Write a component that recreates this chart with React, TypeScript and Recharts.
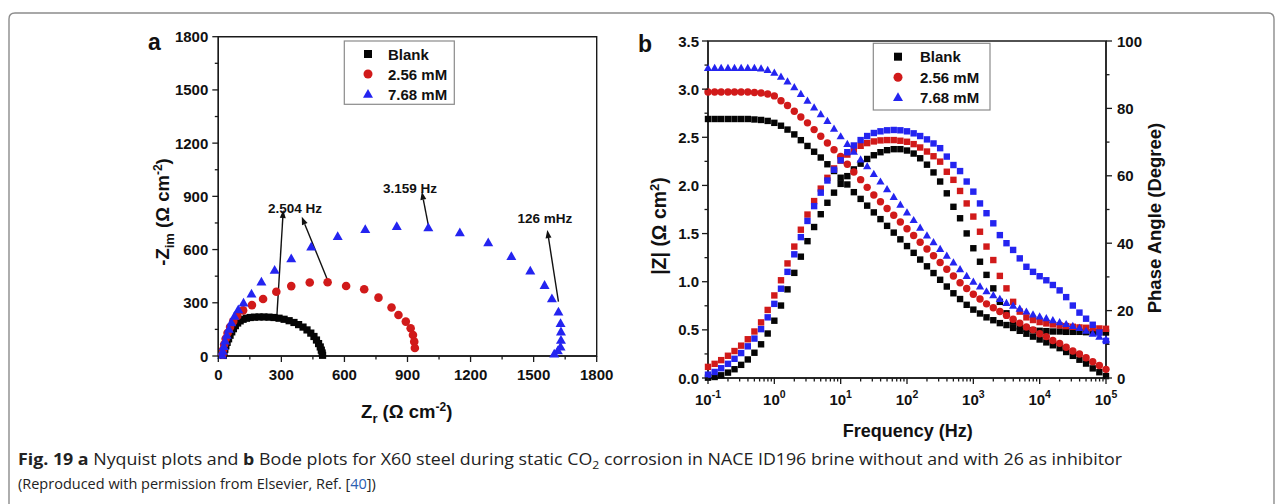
import React from 'react';
import { ScatterChart, Scatter, XAxis, YAxis, ReferenceLine, ReferenceDot, ReferenceArea } from 'recharts';

const FONT = '"Liberation Sans", Arial, Helvetica, sans-serif';
const CAP_FONT = '"Open Sans", "Noto Sans", sans-serif';
const C_BLACK = '#050505';
const C_RED = '#d11a1a';
const C_BLUE = '#2424f0';
const AXIS = '#1a1a1a';

// ---------------- Panel a : Nyquist ----------------
const seriesNames = ['Blank', '2.56 mM', '7.68 mM'];

const nyqBlankZr = [24, 27, 31, 36, 42, 49, 56, 64, 72, 81, 92, 104, 118, 134, 152, 172, 194, 217, 241, 265, 289, 313, 337, 360, 382, 403, 422, 440, 455, 467, 477, 485, 490, 494, 496];
const nyqBlankZim = [3, 20, 38, 57, 77, 97, 117, 136, 154, 171, 186, 198, 207, 213, 217, 219, 220, 220, 219, 217, 213, 207, 199, 189, 177, 163, 147, 129, 110, 90, 70, 51, 33, 17, 4];

const nyq256Zr = [20, 23, 28, 35, 44, 56, 71, 90, 118, 160, 213, 276, 347, 435, 520, 608, 694, 762, 824, 857, 892, 915, 926, 932, 935];
const nyq256Zim = [8, 35, 65, 97, 130, 163, 195, 226, 257, 287, 321, 362, 394, 414, 416, 395, 376, 329, 273, 231, 194, 156, 118, 81, 45];

const nyq768Zr = [18, 21, 26, 32, 40, 50, 62, 77, 95, 120, 158, 205, 268, 347, 442, 568, 699, 849, 999, 1149, 1284, 1394, 1484, 1552, 1587, 1618, 1628, 1630, 1630, 1628, 1615, 1598];
const nyq768Zim = [5, 28, 55, 85, 118, 152, 188, 225, 262, 300, 350, 418, 484, 549, 615, 675, 714, 731, 724, 696, 639, 562, 480, 399, 324, 249, 184, 137, 90, 52, 30, 12];

const nyqTicks = [0, 150, 300, 450, 600, 750, 900, 1050, 1200, 1350, 1500, 1650, 1800];

// annotation arrows (data coordinates: [Zr, Zim] from -> to)
const nyqArrowFrom = [[278, 212], [523, 419], [999, 738], [1618, 306]];
const nyqArrowTo = [[309, 823], [397, 785], [968, 926], [1565, 710]];
const nyqNoteText = ['2.504 Hz', '3.159 Hz', '126 mHz'];
const nyqNoteAt = [[365, 836], [912, 947], [1554, 780]];

// ---------------- Panel b : Bode ----------------
const bodeFreq = [
  0.1, 0.126, 0.158, 0.2, 0.251, 0.316, 0.398, 0.501, 0.631, 0.794,
  1, 1.26, 1.58, 2, 2.51, 3.16, 3.98, 5.01, 6.31, 7.94,
  10, 12.6, 15.8, 20, 25.1, 31.6, 39.8, 50.1, 63.1, 79.4,
  100, 126, 158, 200, 251, 316, 398, 501, 631, 794,
  1000, 1260, 1580, 2000, 2510, 3160, 3980, 5010, 6310, 7940,
  10000, 12600, 15800, 20000, 25100, 31600, 39800, 50100, 63100, 79400,
  100000,
];

const bodeBlankLogZ = [
  2.69, 2.69, 2.69, 2.69, 2.69, 2.69, 2.69, 2.685, 2.68, 2.67,
  2.65, 2.62, 2.58, 2.53, 2.47, 2.41, 2.35, 2.29, 2.22, 2.15,
  2.08, 2.01, 1.93, 1.86, 1.79, 1.72, 1.65, 1.58, 1.51, 1.44,
  1.37, 1.30, 1.23, 1.16, 1.09, 1.02, 0.95, 0.88, 0.82, 0.76,
  0.71, 0.67, 0.63, 0.60, 0.57, 0.55, 0.52, 0.49, 0.46, 0.43,
  0.40, 0.37, 0.34, 0.31, 0.27, 0.23, 0.19, 0.15, 0.10, 0.06,
  0.02,
];
const bode256LogZ = [
  2.97, 2.97, 2.97, 2.97, 2.97, 2.97, 2.97, 2.965, 2.96, 2.95,
  2.93, 2.88, 2.83, 2.77, 2.71, 2.65, 2.58, 2.51, 2.44, 2.37,
  2.30, 2.22, 2.14, 2.06, 1.98, 1.90, 1.83, 1.76, 1.69, 1.62,
  1.55, 1.48, 1.41, 1.34, 1.27, 1.20, 1.13, 1.06, 0.99, 0.93,
  0.87, 0.82, 0.77, 0.73, 0.69, 0.65, 0.61, 0.57, 0.53, 0.50,
  0.46, 0.43, 0.39, 0.36, 0.32, 0.28, 0.25, 0.21, 0.17, 0.13,
  0.09,
];
const bode768LogZ = [
  3.22, 3.22, 3.22, 3.22, 3.22, 3.22, 3.22, 3.22, 3.215, 3.20,
  3.17, 3.13, 3.08, 3.02, 2.95, 2.88, 2.81, 2.74, 2.67, 2.59,
  2.51, 2.43, 2.35, 2.27, 2.20, 2.12, 2.04, 1.96, 1.88, 1.80,
  1.72, 1.64, 1.56, 1.48, 1.41, 1.34, 1.27, 1.20, 1.13, 1.06,
  1.00, 0.95, 0.90, 0.86, 0.82, 0.78, 0.75, 0.72, 0.69, 0.66,
  0.64, 0.62, 0.60, 0.58, 0.56, 0.54, 0.52, 0.49, 0.46, 0.43,
  0.40,
];

const bodeBlankPhase = [
  0.1, 0.3, 0.8, 1.6, 2.6, 3.9, 5.5, 7.5, 10.0, 13.2,
  17.0, 21.5, 26.3, 31.2, 36.0, 40.6, 44.8, 48.6, 52.0, 55.0,
  57.6, 59.9, 61.9, 63.6, 65.0, 66.1, 67.0, 67.6, 67.9, 67.9,
  67.5, 66.6, 65.2, 63.3, 61.0, 58.3, 54.8, 50.8, 47.4, 42.9,
  38.5, 34.5, 30.6, 26.6, 22.6, 19.2, 16.7, 15.3, 14.6, 14.2,
  14.0, 13.9, 13.8, 13.8, 13.7, 13.7, 13.7, 13.6, 13.6, 13.6,
  13.5,
];
const bode256Phase = [
  3.3, 4.2, 5.3, 6.6, 8.0, 9.6, 11.5, 13.8, 16.5, 20.2,
  24.5, 29.0, 34.0, 39.0, 44.0, 48.5, 52.5, 56.2, 59.4, 62.2,
  64.5, 66.3, 67.8, 68.9, 69.7, 70.2, 70.5, 70.6, 70.6, 70.4,
  70.1, 69.4, 68.4, 67.2, 65.8, 64.2, 61.2, 58.8, 55.5, 51.8,
  47.9, 43.4, 39.0, 35.0, 30.3, 26.6, 22.6, 19.7, 18.0, 17.2,
  16.6, 16.2, 15.9, 15.6, 15.4, 15.2, 15.0, 14.9, 14.8, 14.7,
  14.6,
];
const bode768Phase = [
  1.0, 1.8, 2.9, 4.2, 5.7, 7.4, 9.4, 11.7, 14.5, 18.0,
  22.0, 26.5, 31.5, 36.7, 41.8, 46.6, 51.0, 55.0, 58.6, 61.8,
  64.6, 67.0, 69.0, 70.6, 71.8, 72.7, 73.2, 73.5, 73.6, 73.5,
  73.2, 72.6, 71.8, 70.8, 69.6, 68.2, 65.7, 63.2, 61.4, 58.3,
  55.3, 51.8, 48.9, 45.9, 42.4, 40.0, 38.0, 35.5, 33.0, 31.5,
  30.2, 29.0, 27.6, 26.0, 24.0, 21.5, 19.4, 17.6, 15.8, 13.5,
  11.0,
];

const bodeXMajor = [0.1, 1, 10, 100, 1000, 10000, 100000];
const bodeXMajorExp = ['-1', '0', '1', '2', '3', '4', '5'];
const bodeXMinorMult = [2, 3, 4, 5, 6, 7, 8, 9];
const bodeZTicks = [0, 0.25, 0.5, 0.75, 1, 1.25, 1.5, 1.75, 2, 2.25, 2.5, 2.75, 3, 3.25, 3.5];
const bodePhaseTicks = [0, 10, 20, 30, 40, 50, 60, 70, 80, 90, 100];

// ---------------- helpers ----------------
const zip = (xs: number[], ys: number[]) => xs.map((x, i) => ({ x, y: ys[i] }));
const bodePts = (ys: number[]) => bodeFreq.map((f, i) => ({ f, v: ys[i] }));

const bodeXTicks: number[] = [...bodeXMajor];
bodeXMajor.slice(0, -1).forEach((m) => bodeXMinorMult.forEach((k) => bodeXTicks.push(+(m * k).toPrecision(3))));

const squareShape = (s: number, color: string) => (p: any) => (
  <rect x={p.cx - s / 2} y={p.cy - s / 2} width={s} height={s} fill={color} />
);
const circleShape = (d: number, color: string) => (p: any) => (
  <circle cx={p.cx} cy={p.cy} r={d / 2} fill={color} />
);
const triPoints = (cx: number, cy: number, w: number) => {
  const h = w * 0.88;
  return `${cx},${cy - h * 0.58} ${cx - w / 2},${cy + h * 0.42} ${cx + w / 2},${cy + h * 0.42}`;
};
const triangleShape = (w: number, color: string) => (p: any) => (
  <polygon points={triPoints(p.cx, p.cy, w)} fill={color} />
);

const txt = { fontFamily: FONT, fontWeight: 700 as const, fill: '#111' };

const NyqXTick = (p: any) => {
  const v = p.payload.value;
  const major = v % 300 === 0;
  return (
    <g>
      <line x1={p.x} y1={p.y} x2={p.x} y2={p.y + (major ? 6 : 3.5)} stroke={AXIS} strokeWidth={1.3} />
      {major && (
        <text x={p.x} y={p.y + 24} textAnchor="middle" fontSize={15} {...txt}>{v}</text>
      )}
    </g>
  );
};
const NyqYTick = (p: any) => {
  const v = p.payload.value;
  const major = v % 300 === 0;
  return (
    <g>
      <line x1={p.x} y1={p.y} x2={p.x - (major ? 6 : 3.5)} y2={p.y} stroke={AXIS} strokeWidth={1.3} />
      {major && (
        <text x={p.x - 10} y={p.y + 5.5} textAnchor="end" fontSize={15} {...txt}>{v}</text>
      )}
    </g>
  );
};
const BodeXTick = (p: any) => {
  const v = p.payload.value;
  const idx = bodeXMajor.findIndex((m) => Math.abs(m - v) < m * 1e-6);
  const major = idx >= 0;
  return (
    <g>
      <line x1={p.x} y1={p.y} x2={p.x} y2={p.y + (major ? 6 : 3.5)} stroke={AXIS} strokeWidth={1.3} />
      {major && (
        <text x={p.x} y={p.y + 27} textAnchor="middle" fontSize={15} {...txt}>
          <tspan>10</tspan>
          <tspan dy={-7} fontSize={10.5}>{bodeXMajorExp[idx]}</tspan>
        </text>
      )}
    </g>
  );
};
const BodeZTick = (p: any) => {
  const v = p.payload.value;
  const major = Math.abs(v * 2 - Math.round(v * 2)) < 1e-6;
  return (
    <g>
      <line x1={p.x} y1={p.y} x2={p.x - (major ? 6 : 3.5)} y2={p.y} stroke={AXIS} strokeWidth={1.3} />
      {major && (
        <text x={p.x - 9} y={p.y + 5.5} textAnchor="end" fontSize={15} {...txt}>{v.toFixed(1)}</text>
      )}
    </g>
  );
};
const BodePTick = (p: any) => {
  const v = p.payload.value;
  const major = v % 20 === 0;
  return (
    <g>
      <line x1={p.x} y1={p.y} x2={p.x + (major ? 6 : 3.5)} y2={p.y} stroke={AXIS} strokeWidth={1.3} />
      {major && (
        <text x={p.x + 11} y={p.y + 5.5} textAnchor="start" fontSize={15} {...txt}>{v}</text>
      )}
    </g>
  );
};

const ArrowShape = (p: any) => {
  const { x1, y1, x2, y2 } = p;
  const dx = x2 - x1;
  const dy = y2 - y1;
  const L = Math.hypot(dx, dy) || 1;
  const ux = dx / L;
  const uy = dy / L;
  const hl = 8;
  const hw = 3;
  const bx = x2 - ux * hl;
  const by = y2 - uy * hl;
  return (
    <g>
      <line x1={x1} y1={y1} x2={bx} y2={by} stroke="#111" strokeWidth={1.4} />
      <polygon points={`${x2},${y2} ${bx - uy * hw},${by + ux * hw} ${bx + uy * hw},${by - ux * hw}`} fill="#111" />
    </g>
  );
};

const noteShape = (label: string) => (p: any) => (
  <text x={p.cx} y={p.cy} dy={5} textAnchor="middle" fontSize={13.5} {...txt}>{label}</text>
);

const axisLineStyle = { stroke: AXIS, strokeWidth: 1.4 };

const LegendBox = ({ x, y, w, h, mx, tx, rows, fs, sq, cd, tw }: any) => (
  <g>
    <rect x={x} y={y} width={w} height={h} fill="#fff" stroke="#8a8a8a" strokeWidth={1.2} />
    <rect x={mx - sq / 2} y={rows[0] - sq / 2} width={sq} height={sq} fill={C_BLACK} />
    <circle cx={mx} cy={rows[1]} r={cd / 2} fill={C_RED} />
    <polygon points={triPoints(mx, rows[2], tw)} fill={C_BLUE} />
    {seriesNames.map((n, i) => (
      <text key={n} x={tx} y={rows[i] + 5.5} fontSize={fs} {...txt}>{n}</text>
    ))}
  </g>
);

export default function App() {
  const blank = zip(nyqBlankZr, nyqBlankZim);
  const m256 = zip(nyq256Zr, nyq256Zim);
  const m768 = zip(nyq768Zr, nyq768Zim);

  return (
    <div style={{ position: 'absolute', left: 0, top: 0, width: 1282, height: 504, background: '#fff', overflow: 'hidden' }}>
      {/* Panel a */}
      <div style={{ position: 'absolute', left: 100, top: 0 }}>
        <ScatterChart width={520} height={440} margin={{ top: 36.7, right: 23.3, bottom: 44, left: 58.3 }}>
          <XAxis type="number" dataKey="x" domain={[0, 1800]} ticks={nyqTicks} interval={0} tickLine={false}
            tickSize={0} tickMargin={0} axisLine={axisLineStyle} tick={(p: any) => <NyqXTick {...p} />} height={40} />
          <YAxis type="number" dataKey="y" domain={[0, 1800]} ticks={nyqTicks} interval={0} tickLine={false}
            tickSize={0} tickMargin={0} axisLine={axisLineStyle} tick={(p: any) => <NyqYTick {...p} />} width={60} />
          <ReferenceArea x1={0} x2={1800} y1={0} y2={1800} fill="none" fillOpacity={0} stroke={AXIS} strokeWidth={1.4} />
          <Scatter data={blank} shape={squareShape(7.2, C_BLACK)} isAnimationActive={false} />
          <Scatter data={m256} shape={circleShape(8.6, C_RED)} isAnimationActive={false} />
          <Scatter data={m768} shape={triangleShape(10, C_BLUE)} isAnimationActive={false} />
          {nyqArrowFrom.map((a, i) => (
            <ReferenceLine key={'ar' + i} segment={[{ x: a[0], y: a[1] }, { x: nyqArrowTo[i][0], y: nyqArrowTo[i][1] }]}
              stroke="#111" shape={ArrowShape} />
          ))}
          {nyqNoteText.map((t, i) => (
            <ReferenceDot key={'nt' + i} x={nyqNoteAt[i][0]} y={nyqNoteAt[i][1]} r={0} shape={noteShape(t)} />
          ))}
        </ScatterChart>
      </div>

      {/* Panel b */}
      <div style={{ position: 'absolute', left: 600, top: 0 }}>
        <ScatterChart width={620} height={450} margin={{ top: 41, right: 54, bottom: 32, left: 48 }}>
          <XAxis type="number" dataKey="f" scale="log" domain={[0.1, 100000]} ticks={bodeXTicks} interval={0}
            tickLine={false} tickSize={0} tickMargin={0} axisLine={axisLineStyle}
            tick={(p: any) => <BodeXTick {...p} />} height={40} />
          <YAxis yAxisId="z" type="number" dataKey="v" domain={[0, 3.5]} ticks={bodeZTicks} interval={0}
            tickLine={false} tickSize={0} tickMargin={0} axisLine={axisLineStyle}
            tick={(p: any) => <BodeZTick {...p} />} width={60} />
          <YAxis yAxisId="p" orientation="right" type="number" dataKey="v" domain={[0, 100]} ticks={bodePhaseTicks}
            interval={0} tickLine={false} tickSize={0} tickMargin={0} axisLine={axisLineStyle}
            tick={(p: any) => <BodePTick {...p} />} width={60} />
          <ReferenceArea yAxisId="z" x1={0.1} x2={100000} y1={0} y2={3.5} fill="none" fillOpacity={0} stroke={AXIS} strokeWidth={1.4} />
          <Scatter yAxisId="z" data={bodePts(bodeBlankLogZ)} shape={squareShape(6.4, C_BLACK)} isAnimationActive={false} />
          <Scatter yAxisId="p" data={bodePts(bodeBlankPhase)} shape={squareShape(6.4, C_BLACK)} isAnimationActive={false} />
          <Scatter yAxisId="z" data={bodePts(bode256LogZ)} shape={circleShape(7.4, C_RED)} isAnimationActive={false} />
          <Scatter yAxisId="p" data={bodePts(bode256Phase)} shape={squareShape(6.4, C_RED)} isAnimationActive={false} />
          <Scatter yAxisId="z" data={bodePts(bode768LogZ)} shape={triangleShape(8.2, C_BLUE)} isAnimationActive={false} />
          <Scatter yAxisId="p" data={bodePts(bode768Phase)} shape={squareShape(6.4, C_BLUE)} isAnimationActive={false} />
        </ScatterChart>
      </div>

      {/* Overlay: frame, titles, legends, caption */}
      <svg width={1282} height={504} style={{ position: 'absolute', left: 0, top: 0, pointerEvents: 'none' }}>
        <path d="M 9 504 L 9 19 Q 9 13 15 13 L 1268 13 Q 1274 13 1274 19 L 1274 504" fill="none" stroke="#8c8c8c" strokeWidth={1.4} />

        <text x={148} y={50} fontSize={23} {...txt}>a</text>
        <text x={638} y={52} fontSize={23} {...txt}>b</text>

        {/* panel a titles */}
        <text transform="translate(162,212) rotate(-90)" textAnchor="middle" dy={7} fontSize={18.5} {...txt}>
          <tspan>-Z</tspan>
          <tspan dy={5} fontSize={13}>im</tspan>
          <tspan dy={-5}> (Ω cm</tspan>
          <tspan dy={-7} fontSize={12}>-2</tspan>
          <tspan dy={7}>)</tspan>
        </text>
        <text x={406.7} y={418} textAnchor="middle" fontSize={18.5} {...txt}>
          <tspan>Z</tspan>
          <tspan dy={5} fontSize={13}>r</tspan>
          <tspan dy={-5}> (Ω cm</tspan>
          <tspan dy={-7} fontSize={12}>-2</tspan>
          <tspan dy={7}>)</tspan>
        </text>

        {/* panel b titles */}
        <text transform="translate(659,226) rotate(-90)" textAnchor="middle" dy={7} fontSize={19.5} {...txt}>
          <tspan>|Z| (Ω cm</tspan>
          <tspan dy={-7} fontSize={13}>2</tspan>
          <tspan dy={7}>)</tspan>
        </text>
        <text transform="translate(1153.5,218) rotate(-90)" textAnchor="middle" dy={7} fontSize={18.5} {...txt}>Phase Angle (Degree)</text>
        <text x={907.8} y={436.5} textAnchor="middle" fontSize={18} {...txt}>Frequency (Hz)</text>

        <LegendBox x={344.3} y={41} w={110} h={63.3} mx={368} tx={388} rows={[54, 74, 94]} fs={15} sq={8} cd={9} tw={10} />
        <LegendBox x={873.3} y={43.3} w={116.7} h={66.7} mx={898} tx={920} rows={[56.7, 77.3, 97.3]} fs={15} sq={8} cd={9} tw={10} />

        {/* caption */}
        <text x={18} y={465} fontSize={16} fontFamily={CAP_FONT} fill="#222" textLength={1104} lengthAdjust="spacingAndGlyphs">
          <tspan fontWeight={700}>Fig. 19</tspan>
          <tspan>{'  '}</tspan>
          <tspan fontWeight={700}>a</tspan>
          <tspan>{' Nyquist plots and '}</tspan>
          <tspan fontWeight={700}>b</tspan>
          <tspan>{' Bode plots for X60 steel during static CO'}</tspan>
          <tspan dy={4} fontSize={11}>2</tspan>
          <tspan dy={-4}>{' corrosion in NACE ID196 brine without and with 26 as inhibitor'}</tspan>
        </text>
        <text x={18} y={489} fontSize={14.5} fontFamily={CAP_FONT} fill="#222">
          <tspan>{'(Reproduced with permission from Elsevier, Ref. ['}</tspan>
          <tspan fill="#2a5db0">40</tspan>
          <tspan>{'])'}</tspan>
        </text>
      </svg>
    </div>
  );
}
